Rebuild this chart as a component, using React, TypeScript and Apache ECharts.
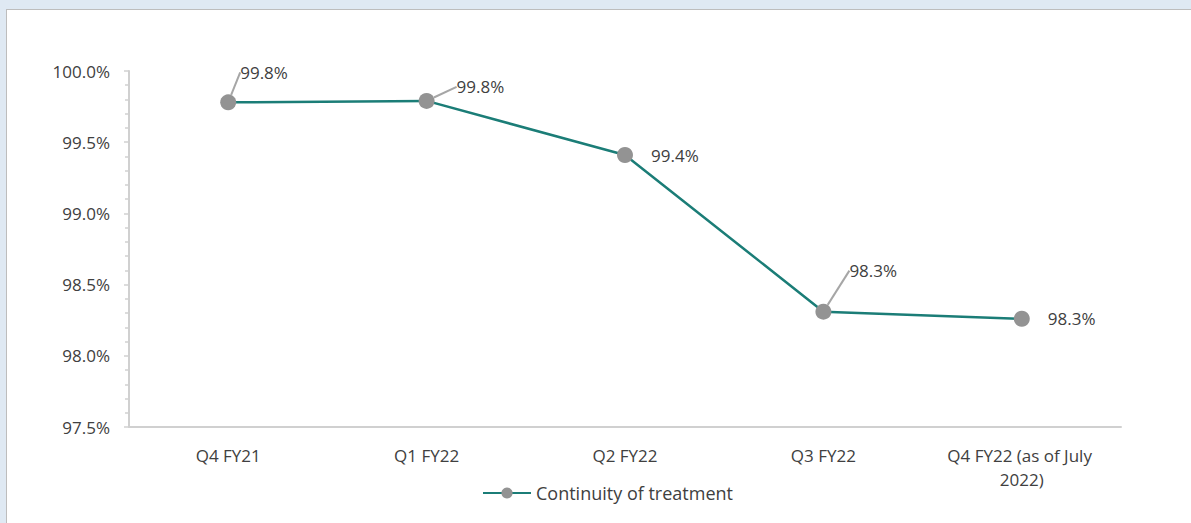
import React, { useEffect, useRef } from "react";
import * as echarts from "echarts";

const categories = ["Q4 FY21", "Q1 FY22", "Q2 FY22", "Q3 FY22", "Q4 FY22 (as of July 2022)"];
const continuity = [99.78, 99.79, 99.41, 98.31, 98.26];
const dataLabels = ["99.8%", "99.8%", "99.4%", "98.3%", "98.3%"];
const seriesName = "Continuity of treatment";

// label displacement (style only)
const labelShift: Array<[number, number]> = [[-14, -30], [4, -14], [0, 0], [0, -41], [0, 0]];

const FONT = "'Open Sans', 'Noto Sans', sans-serif";
const TXT = "#404040";
const FS = 17;

export default function App() {
  const ref = useRef<HTMLDivElement>(null);
  useEffect(() => {
    document.body.style.margin = "0";
    const chart = echarts.init(ref.current!, null, { renderer: "svg" });
    const seriesData = continuity.map((v, i) => {
      const moved = labelShift[i][0] !== 0 || labelShift[i][1] !== 0;
      return { value: v, labelLine: { show: moved } };
    });
    chart.setOption({
      animation: false,
      textStyle: { fontFamily: FONT },
      grid: { left: 129, right: 70, top: 71, bottom: 96, containLabel: false },
      legend: {
        bottom: 16,
        left: 477,
        itemWidth: 48,
        itemHeight: 14,
        textStyle: { color: TXT, fontSize: 18, fontFamily: FONT },
        data: [seriesName],
      },
      xAxis: {
        type: "category",
        data: categories,
        boundaryGap: true,
        axisLine: { lineStyle: { color: "#d0d0d0", width: 2 } },
        axisTick: { show: false },
        axisLabel: {
          color: TXT,
          fontSize: FS,
          fontFamily: FONT,
          margin: 16,
          lineHeight: 24,
          width: 170,
          overflow: "break",
          interval: 0,
        },
      },
      yAxis: {
        type: "value",
        min: 97.5,
        max: 100,
        interval: 0.5,
        splitLine: { show: false },
        axisLine: { show: true, lineStyle: { color: "#d0d0d0", width: 2 } },
        axisTick: { show: true, inside: false, length: 5, lineStyle: { color: "#d0d0d0", width: 1.5 } },
        minorTick: { show: true, splitNumber: 5, length: 4, lineStyle: { color: "#d0d0d0", width: 1.5 } },
        axisLabel: {
          color: TXT,
          fontSize: FS,
          fontFamily: FONT,
          margin: 19,
          formatter: (v: number) => v.toFixed(1) + "%",
        },
      },
      series: [
        {
          name: seriesName,
          type: "line",
          data: seriesData,
          symbol: "circle",
          symbolSize: 16,
          lineStyle: { color: "#1b7d77", width: 2.5 },
          itemStyle: { color: "#939393" },
          label: {
            show: true,
            position: "right",
            distance: 18,
            color: TXT,
            fontSize: FS,
            fontFamily: FONT,
            formatter: (p: any) => dataLabels[p.dataIndex],
          },
          labelLine: { lineStyle: { color: "#a6a6a6", width: 2 } },
          labelLayout: (p: any) => {
            const s = labelShift[p.dataIndex];
            return { dx: s[0], dy: s[1] };
          },
        },
      ],
    });
    return () => chart.dispose();
  }, []);
  return (
    <div style={{ position: "fixed", left: 0, top: 0, width: 1191, height: 523, background: "#dfe9f3", overflow: "hidden" }}>
      <div
        style={{
          position: "absolute",
          left: 6,
          top: 9,
          width: 1200,
          height: 530,
          background: "#fff",
          border: "1.5px solid #bdbdbd",
        }}
      />
      <div ref={ref} style={{ position: "absolute", left: 0, top: 0, width: 1191, height: 523 }} />
    </div>
  );
}
